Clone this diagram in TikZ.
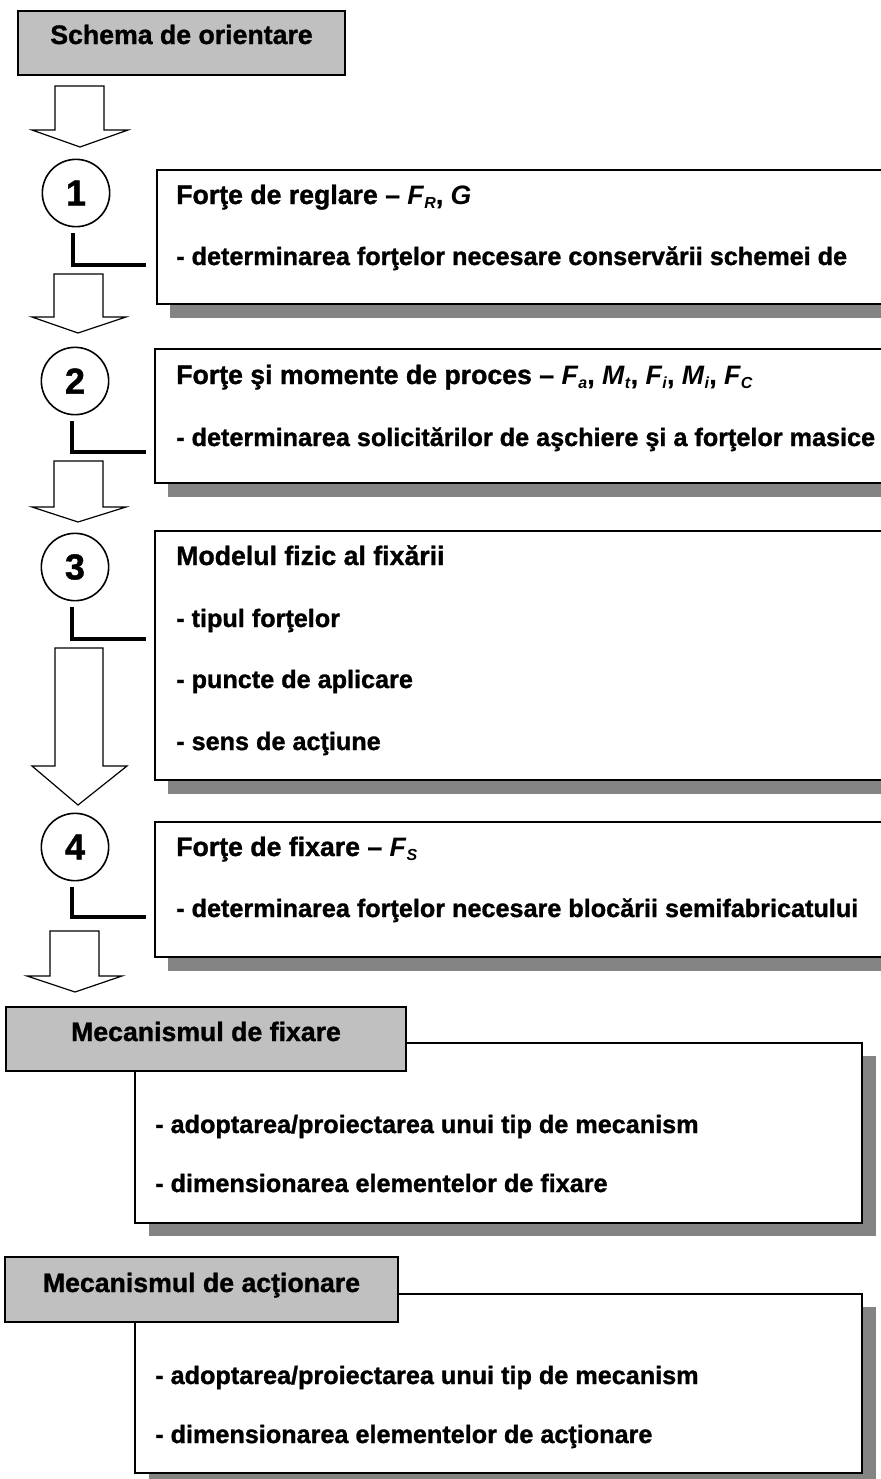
\documentclass[tikz,border=0pt]{standalone}
\usepackage{fontspec}
\setmainfont{Liberation Sans}[BoldFeatures={FakeBold=1.2}]
\usetikzlibrary{shadows}
\definecolor{hdrgray}{HTML}{C0C0C0}
\definecolor{shadowgray}{HTML}{848484}
% italic subscript of a force or moment symbol
\newcommand\fsub[1]{\raisebox{-0.35ex}{\fontsize{12}{12}\selectfont\textit{#1}}}

\begin{document}
\begin{tikzpicture}[x=0.75pt,y=-0.75pt,
  hdr/.style={draw, line width=1.5pt, fill=hdrgray, inner sep=0pt},
  hdrtext/.style={anchor=base, inner sep=0pt, font=\fontsize{20}{24}\selectfont\bfseries},
  stepbox/.style={draw, line width=1.5pt, fill=white, inner sep=0pt, anchor=north west,
    drop shadow={shadow xshift=9.75pt, shadow yshift=-10.5pt, fill=shadowgray, opacity=1}},
  taskbox/.style={draw, line width=1.5pt, fill=white, inner sep=0pt, anchor=north west,
    drop shadow={shadow xshift=10.5pt, shadow yshift=-9.75pt, fill=shadowgray, opacity=1}},
  headtext/.style={anchor=base west, inner sep=0pt, font=\fontsize{20}{24}\selectfont\bfseries},
  bodytext/.style={anchor=base west, inner sep=0pt, font=\fontsize{18.9}{22}\selectfont\bfseries},
  numcirc/.style={circle, draw, line width=1.2pt, fill=white, minimum size=50.5pt, inner sep=0pt,
    font=\fontsize{27}{27}\selectfont\bfseries},
  blockarrow/.style={draw, line width=0.9pt, fill=white, line join=miter},
  lconn/.style={line width=2.6pt}
]
\useasboundingbox (0,0) rectangle (881,1479);

% --- title block ---
\node[hdr, minimum width=245.25pt, minimum height=48pt] (h1) at (181.5,43) {};
\node[hdrtext] (h1t) at (181.5,44) {Schema de orientare};

% --- block arrows ---
\draw[blockarrow] (55,86) -- (104,86) -- (104,130) -- (128,130) -- (80,147) -- (32,130) -- (55,130) -- cycle;
\draw[blockarrow] (54,274) -- (103,274) -- (103,317) -- (126,317) -- (78,333) -- (32,317) -- (54,317) -- cycle;
\draw[blockarrow] (54,461) -- (103,461) -- (103,507) -- (126,507) -- (78,522) -- (32,507) -- (54,507) -- cycle;
\draw[blockarrow] (55,648) -- (103,648) -- (103,766) -- (127,766) -- (78,805) -- (32,766) -- (55,766) -- cycle;
\draw[blockarrow] (50,931) -- (99,931) -- (99,976) -- (122,976) -- (75,992) -- (27,976) -- (50,976) -- cycle;

% --- numbered steps ---
\node[numcirc] (c1) at (76,193) {1};
\node[numcirc] (c2) at (75,381) {2};
\node[numcirc] (c3) at (75,567) {3};
\node[numcirc] (c4) at (75,847) {4};

% --- step boxes ---
\node[stepbox, minimum width=544.5pt, minimum height=100.5pt] (b1) at (156,169) {};
\node[headtext] (b1h) at (176,204) {Forţe de reglare – \textit{F}\fsub{R}, \textit{G}};
\node[bodytext] (b1a) at (176,265) {- determinarea forţelor necesare conservării schemei de};

\node[stepbox, minimum width=546pt, minimum height=100.5pt] (b2) at (154,348) {};
\node[headtext] (b2h) at (176,384) {Forţe şi momente de proces – \textit{F}\fsub{a}, \textit{M}\fsub{t}, \textit{F}\fsub{i}, \textit{M}\fsub{i}, \textit{F}\fsub{C}};
\node[bodytext] (b2a) at (176,446) {- determinarea solicitărilor de aşchiere şi a forţelor masice};

\node[stepbox, minimum width=546pt, minimum height=186.75pt] (b3) at (154,530) {};
\node[headtext] (b3h) at (176,565) {Modelul fizic al fixării};
\node[bodytext] (b3a) at (176,627) {- tipul forţelor};
\node[bodytext] (b3b) at (176,688) {- puncte de aplicare};
\node[bodytext] (b3c) at (176,750) {- sens de acţiune};

\node[stepbox, minimum width=546pt, minimum height=101.25pt] (b4) at (154,821) {};
\node[headtext] (b4h) at (176,856) {Forţe de fixare – \textit{F}\fsub{S}};
\node[bodytext] (b4a) at (176,917) {- determinarea forţelor necesare blocării semifabricatului};

% --- links from the numbers to their boxes ---
\coordinate (k1) at (146,265);
\coordinate (k2) at (146,452);
\coordinate (k3) at (146,639);
\coordinate (k4) at (146,917);
\draw[lconn] ([shift={(-3,6)}]c1.south) |- (k1);
\draw[lconn] ([shift={(-3,6)}]c2.south) |- (k2);
\draw[lconn] ([shift={(-3,6)}]c3.south) |- (k3);
\draw[lconn] ([shift={(-3,6)}]c4.south) |- (k4);

% --- clamping mechanism ---
\node[taskbox, minimum width=545.25pt, minimum height=135pt] (m1) at (134,1042) {};
\node[hdr, minimum width=300pt, minimum height=48pt] (h2) at (206,1039) {};
\node[hdrtext] (h2t) at (206,1041) {Mecanismul de fixare};
\node[bodytext] (m1a) at (155,1133) {- adoptarea/proiectarea unui tip de mecanism};
\node[bodytext] (m1b) at (155,1192) {- dimensionarea elementelor de fixare};

% --- actuating mechanism ---
\node[taskbox, minimum width=545.25pt, minimum height=134.25pt] (m2) at (134,1293) {};
\node[hdr, minimum width=294.75pt, minimum height=48.75pt] (h3) at (201.5,1289.5) {};
\node[hdrtext] (h3t) at (201.5,1292) {Mecanismul de acţionare};
\node[bodytext] (m2a) at (155,1384) {- adoptarea/proiectarea unui tip de mecanism};
\node[bodytext] (m2b) at (155,1443) {- dimensionarea elementelor de acţionare};
\end{tikzpicture}
\end{document}
